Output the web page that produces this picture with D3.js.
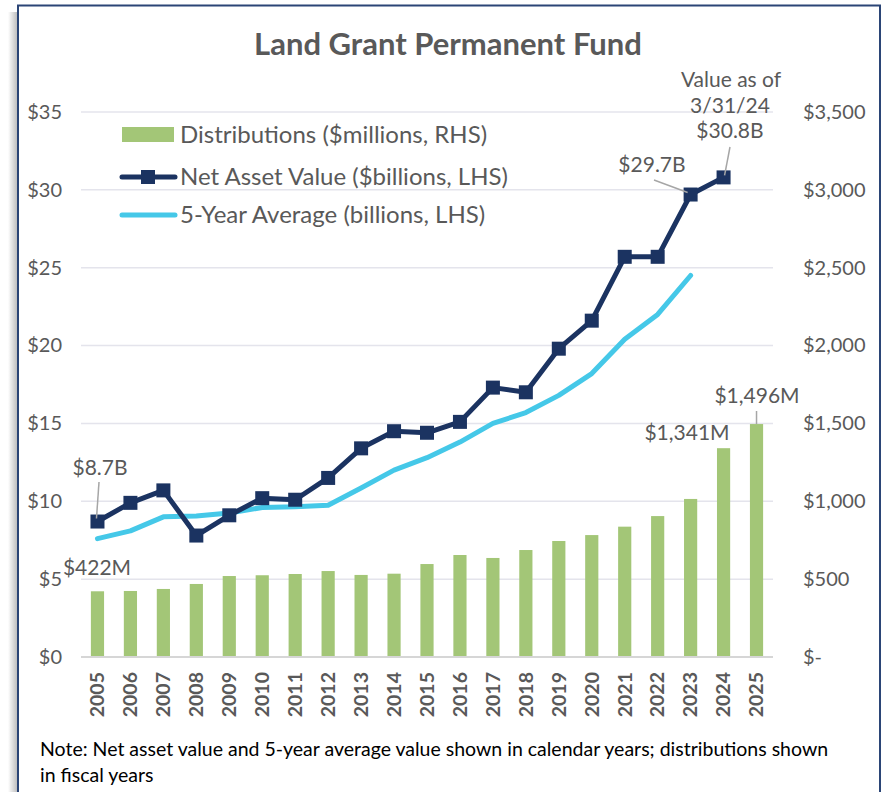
<!DOCTYPE html>
<html>
<head>
<meta charset="utf-8">
<script src="https://cdn.jsdelivr.net/npm/d3@7"></script>
<style>
  html, body { margin: 0; padding: 0; background: #fff; }
  svg { display: block; }
  text { font-family: Lato, "Open Sans", sans-serif; }
</style>
</head>
<body>
<svg id="chart" width="885" height="792"></svg>
<script>
const years = [2005,2006,2007,2008,2009,2010,2011,2012,2013,2014,2015,2016,2017,2018,2019,2020,2021,2022,2023,2024,2025];
const distributions = [422,424,437,469,520,525,533,552,527,535,597,655,636,687,745,783,837,905,1015,1341,1496];
const navYears = years.slice(0, 20);
const netAssetValue = [8.7,9.9,10.7,7.8,9.1,10.2,10.1,11.5,13.4,14.5,14.4,15.1,17.3,17.0,19.8,21.6,25.7,25.7,29.7,30.8];
const avgYears = years.slice(0, 19);
const fiveYearAvg = [7.6,8.1,9.0,9.05,9.25,9.6,9.65,9.75,10.85,12.0,12.8,13.8,15.0,15.7,16.8,18.2,20.4,22.0,24.5];
const leftTicks = [0,5,10,15,20,25,30,35];
const rightTicks = [0,500,1000,1500,2000,2500,3000,3500];

const svg = d3.select("#chart");
const pL = 81, pR = 773, pT = 112, pB = 657;
const gray = "#595959";

// frame with shadow
const defs = svg.append("defs");
const grad = defs.append("linearGradient").attr("id","shadow").attr("x1","0").attr("x2","1").attr("y1","0").attr("y2","0");
grad.append("stop").attr("offset","0").attr("stop-color","#ffffff");
grad.append("stop").attr("offset","1").attr("stop-color","#b8b8b8");
svg.append("rect").attr("x",8).attr("y",12).attr("width",10).attr("height",790).attr("fill","url(#shadow)");
svg.append("rect").attr("x",18).attr("y",5.5).attr("width",862).attr("height",800)
  .attr("fill","#fff").attr("stroke","#2b4576").attr("stroke-width",2);

const x = d3.scaleBand().domain(years).range([pL, pR]).paddingInner(0.6).paddingOuter(0.3);
const cx = d => x(d) + x.bandwidth() / 2;
const yL = d3.scaleLinear().domain([0, 35]).range([pB, pT]);
const yR = d3.scaleLinear().domain([0, 3500]).range([pB, pT]);

// title
svg.append("text").attr("x", 448).attr("y", 55).attr("text-anchor","middle")
  .attr("font-size", 31).attr("font-weight", 700).attr("fill", gray).text("Land Grant Permanent Fund");

// gridlines
svg.append("g").selectAll("line").data(leftTicks.filter(d => d > 0)).join("line")
  .attr("x1", pL).attr("x2", pR).attr("y1", d => yL(d)).attr("y2", d => yL(d))
  .attr("stroke", "#e4e4ec").attr("stroke-width", 1.5);

// left axis
const axL = d3.axisLeft(yL).tickValues(leftTicks).tickSize(0).tickPadding(0).tickFormat(d => "$" + d);
const gL = svg.append("g").attr("transform", "translate(62,0)").call(axL);
gL.select(".domain").remove();
gL.selectAll("text").attr("font-size", 20).attr("fill", gray).attr("font-family", "Lato, sans-serif");

// right axis
const axR = d3.axisRight(yR).tickValues(rightTicks).tickSize(0).tickPadding(0)
  .tickFormat(d => d === 0 ? "$-" : "$" + d3.format(",")(d));
const gR = svg.append("g").attr("transform", "translate(803,0)").call(axR);
gR.select(".domain").remove();
gR.selectAll("text").attr("font-size", 20).attr("fill", gray).attr("font-family", "Lato, sans-serif");

// bars
svg.append("g").selectAll("rect").data(years).join("rect")
  .attr("x", d => x(d)).attr("width", x.bandwidth())
  .attr("y", (d, i) => yR(distributions[i])).attr("height", (d, i) => pB - yR(distributions[i]))
  .attr("fill", "#a3c677");

// baseline
svg.append("line").attr("x1", pL).attr("x2", pR).attr("y1", pB).attr("y2", pB)
  .attr("stroke", "#d6d6d6").attr("stroke-width", 2);

// x axis
const axX = d3.axisBottom(x).tickSize(0).tickPadding(0);
const gX = svg.append("g").attr("transform", `translate(0,${pB})`).call(axX);
gX.select(".domain").remove();
gX.selectAll("text").attr("font-size", 19.5).attr("font-weight", 700).attr("fill", gray)
  .attr("font-family", "Lato, sans-serif")
  .attr("text-anchor", "end").attr("dy", "0.35em").attr("y", 0)
  .attr("transform", "translate(0,15) rotate(-90)");

// 5-year average
const lineGen = d3.line().x(d => cx(d[0])).y(d => yL(d[1]));
svg.append("path").datum(avgYears.map((d, i) => [d, fiveYearAvg[i]])).attr("d", lineGen)
  .attr("fill", "none").attr("stroke", "#45c8e8").attr("stroke-width", 5)
  .attr("stroke-linejoin", "round").attr("stroke-linecap", "round");

// NAV
svg.append("path").datum(navYears.map((d, i) => [d, netAssetValue[i]])).attr("d", lineGen)
  .attr("fill", "none").attr("stroke", "#1b3361").attr("stroke-width", 5).attr("stroke-linejoin", "round");
svg.append("g").selectAll("rect").data(navYears).join("rect")
  .attr("x", d => cx(d) - 7).attr("y", (d, i) => yL(netAssetValue[i]) - 7)
  .attr("width", 14).attr("height", 14).attr("fill", "#1b3361");

// annotations
const ann = svg.append("g").attr("font-size", 21).attr("fill", gray).attr("text-anchor", "middle");
const lead = svg.append("g").attr("stroke", "#a6a6a6").attr("stroke-width", 1.5);
function label(t, xx, yy) { ann.append("text").attr("x", xx).attr("y", yy).text(t); }
function leader(x1, y1, x2, y2) { lead.append("line").attr("x1", x1).attr("y1", y1).attr("x2", x2).attr("y2", y2); }

label("$8.7B", 100, 475);
leader(99, 482, cx(2005) - 1, yL(netAssetValue[0]) - 3);
label("$422M", 97, 575);
label("$29.7B", 652, 172);
leader(654, 180, cx(2023) - 3, yL(netAssetValue[18]) - 2);
label("Value as of", 731, 87);
label("3/31/24", 730, 113);
label("$30.8B", 730, 138);
leader(730, 147, cx(2024) + 1, yL(netAssetValue[19]) - 2);
label("$1,341M", 687, 440);
label("$1,496M", 757, 403);
leader(cx(2025), 411, cx(2025), yR(distributions[20]));

// legend
const lg = svg.append("g");
lg.append("rect").attr("x", 122).attr("y", 127).attr("width", 52).attr("height", 15).attr("fill", "#a3c677");
lg.append("line").attr("x1", 122).attr("x2", 175).attr("y1", 177).attr("y2", 177)
  .attr("stroke", "#1b3361").attr("stroke-width", 5).attr("stroke-linecap", "round");
lg.append("rect").attr("x", 141).attr("y", 170).attr("width", 14).attr("height", 14).attr("fill", "#1b3361");
lg.append("line").attr("x1", 122).attr("x2", 175).attr("y1", 215).attr("y2", 215)
  .attr("stroke", "#45c8e8").attr("stroke-width", 5).attr("stroke-linecap", "round");
const lt = lg.append("g").attr("font-size", 24).attr("fill", gray);
lt.append("text").attr("x", 180).attr("y", 143).text("Distributions ($millions, RHS)");
lt.append("text").attr("x", 180).attr("y", 185).text("Net Asset Value ($billions, LHS)");
lt.append("text").attr("x", 180).attr("y", 223).text("5-Year Average (billions, LHS)");

// note
const nt = svg.append("g").attr("font-size", 19.5).attr("fill", "#000");
nt.append("text").attr("x", 40).attr("y", 756)
  .text("Note: Net asset value and 5-year average value shown in calendar years; distributions shown");
nt.append("text").attr("x", 40).attr("y", 782).text("in fiscal years");
</script>
</body>
</html>
